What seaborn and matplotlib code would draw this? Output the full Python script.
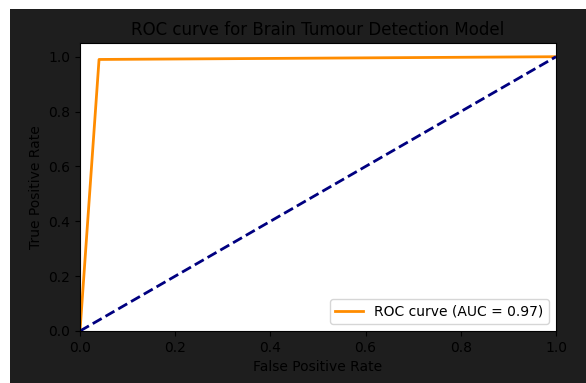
import matplotlib
matplotlib.use('Agg')
import matplotlib.pyplot as plt
from matplotlib.patches import Rectangle
import seaborn as sns

# ROC points.
fpr = [0.0, 0.04, 1.0]
tpr = [0.0, 0.99, 1.0]
chance = [0.0, 1.0]
roc_auc = 0.97

fig = plt.figure(figsize=(5.86, 3.83), dpi=100, facecolor='white')
# Dark backdrop behind the plot, leaving a thin white strip at top and left.
fig.patches.append(Rectangle((10 / 586, 0), 1, 1 - 9 / 383, transform=fig.transFigure,
                             facecolor='#1e1e1e', edgecolor='none', zorder=-10))
ax = fig.add_axes([80 / 586, 1 - 331 / 383, 476 / 586, 288 / 383])
ax.set_facecolor('white')

sns.lineplot(x=fpr, y=tpr, color='darkorange', lw=2, label=f'ROC curve (AUC = {roc_auc:.2f})', ax=ax)
sns.lineplot(x=chance, y=chance, color='navy', lw=2, linestyle='--', ax=ax)

ax.set_xlim(0.0, 1.0)
ax.set_ylim(0.0, 1.05)
ax.set_xlabel('False Positive Rate')
ax.set_ylabel('True Positive Rate')
ax.set_title('ROC curve for Brain Tumour Detection Model')
ax.legend(loc='lower right')

fig.savefig('out.png', dpi=100, facecolor=fig.get_facecolor())
